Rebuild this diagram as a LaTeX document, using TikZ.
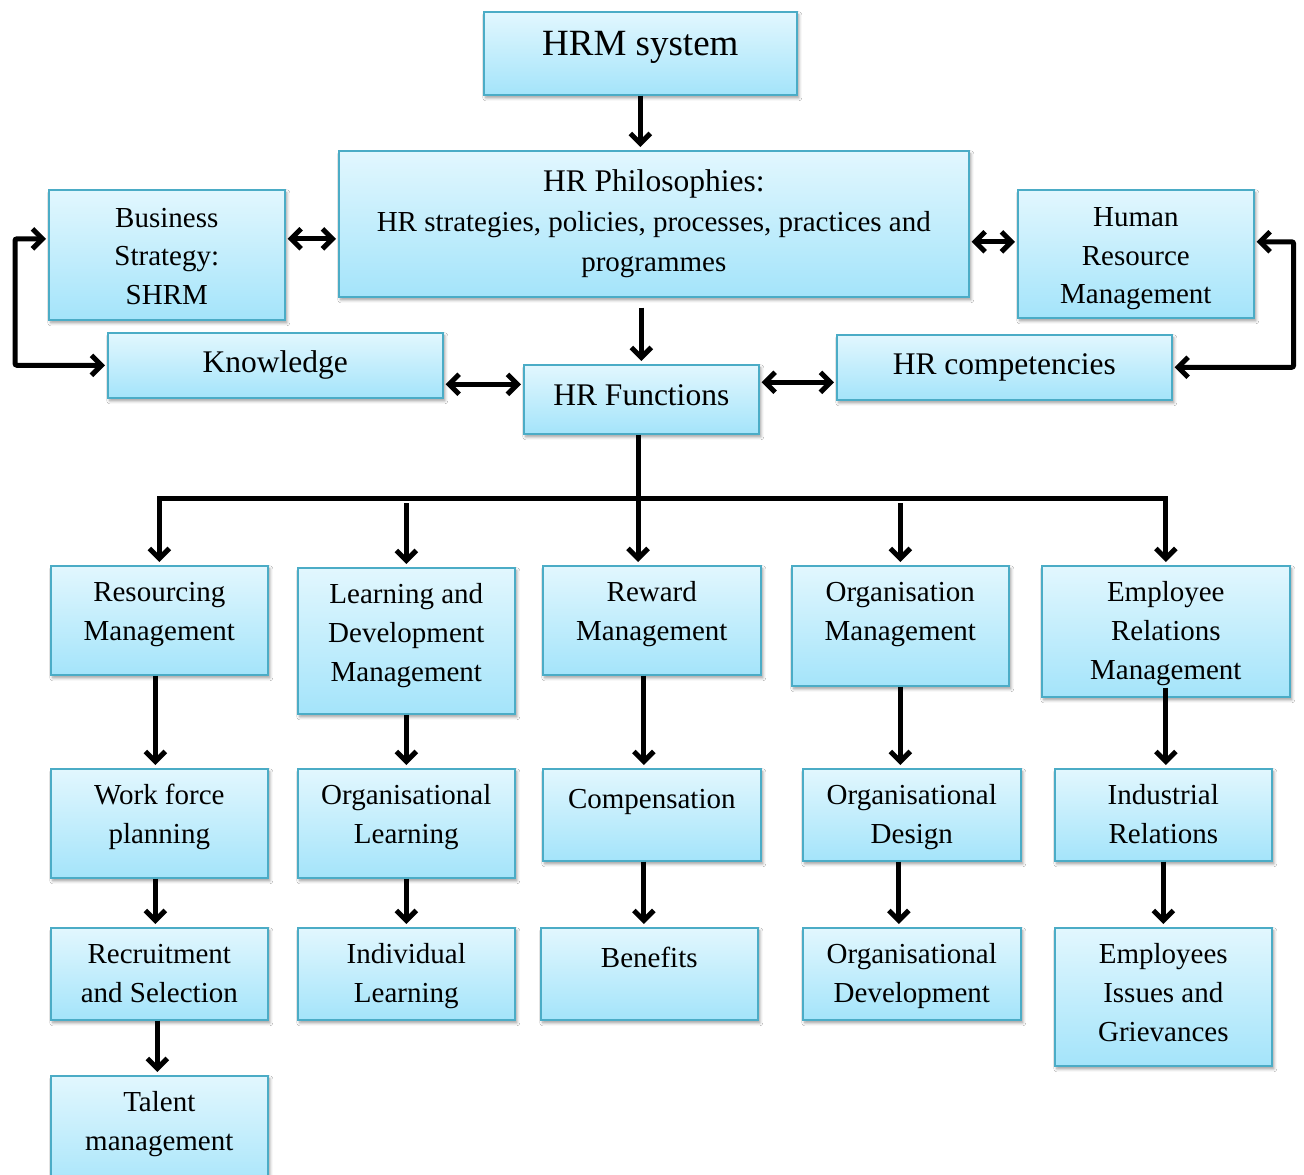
\documentclass[tikz,border=0pt]{standalone}
\usepackage{fontspec}
\setmainfont{Liberation Serif}
\usetikzlibrary{arrows.meta,shadows.blur,calc}
\definecolor{boxtop}{RGB}{226,247,254}
\definecolor{boxbot}{RGB}{164,228,250}
\definecolor{boxline}{RGB}{75,172,198}

\tikzset{
  box/.style={rectangle, draw=boxline, line width=1.6pt, top color=boxtop, bottom color=boxbot,
    inner sep=0pt, align=center,
    blur shadow={shadow xshift=2pt, shadow yshift=-3pt, shadow opacity=40, shadow blur radius=3pt, shadow blur steps=6}},
  lbl/.style={inner sep=0pt, align=center, anchor=north, font=\fontsize{29}{39}\selectfont},
  tip/.tip={Straight Barb[length=10pt,width=20pt,line width=5pt]},
  arr/.style={line width=5pt, -tip, shorten >=3pt},
  dbl/.style={line width=5pt, tip-tip, shorten >=2pt, shorten <=2pt},
  loop/.style={line width=5pt, tip-tip, rounded corners=2pt, shorten >=2pt, shorten <=2pt},
}

% box with its text centred: name, left, top, right, bottom, font, text
\newcommand\cbx[7]{%
  \node[box, anchor=north west, minimum width={#4-#2}, minimum height={#5-#3}, font=#6] (#1) at (#2,#3) {#7};}
% box with its text hung from the top edge: [drop], name, left, top, right, bottom, text
\newcommand\tbx[7][8.5]{%
  \node[box, anchor=north west, minimum width={#5-#3}, minimum height={#6-#4}] (#2) at (#3,#4) {};
  \node[lbl] (#2-t) at ([yshift=-#1pt]#2.north) {\strut #7};}

\begin{document}
\begin{tikzpicture}[x=1pt, y=-1pt]
\useasboundingbox (0,0) rectangle (1304,1175);
\fill[white] (0,0) rectangle (1304,1175);

% upper part
\cbx{hrm}{483}{11}{796}{94}{\fontsize{37}{44}\selectfont,text height=20pt,text depth=15pt}{HRM system}
\cbx{hrp}{338}{150}{968}{296}{\fontsize{29}{40}\selectfont}{{\fontsize{31.5}{40}\selectfont HR Philosophies:}\\HR strategies, policies, processes, practices and\\programmes}
\cbx{bs}{48}{189}{284}{319}{\fontsize{29}{38.5}\selectfont}{\rule{0pt}{22pt}Business\\Strategy:\\SHRM}
\cbx{hr}{1017}{189}{1253}{317}{\fontsize{29}{38.5}\selectfont}{\rule{0pt}{29pt}Human\\Resource\\Management}
\cbx{kn}{107}{332}{442}{397}{\fontsize{31.5}{38}\selectfont}{Knowledge}
\cbx{hrf}{523}{364}{758}{433}{\fontsize{31.5}{38}\selectfont,text height=20pt,text depth=7pt}{HR Functions}
\cbx{hc}{836}{334}{1171}{399}{\fontsize{31.5}{38}\selectfont}{HR competencies}

% functions
\tbx{res}{50}{565}{267}{674}{Resourcing\\Management}
\tbx{ld}{297}{567}{514}{713}{Learning and\\Development\\Management}
\tbx{rew}{542}{565}{760}{674}{Reward\\Management}
\tbx{om}{791}{565}{1008}{685}{Organisation\\Management}
\tbx{er}{1041}{565}{1289}{696}{Employee\\Relations\\Management}

\tbx{wf}{50}{768}{267}{877}{Work force\\planning}
\tbx{ol}{297}{768}{514}{877}{Organisational\\Learning}
\tbx[12.5]{comp}{542}{768}{760}{860}{Compensation}
\tbx{od}{802}{768}{1020}{860}{Organisational\\Design}
\tbx{ir}{1054}{768}{1271}{860}{Industrial\\Relations}

\tbx{rs}{50}{927}{267}{1019}{Recruitment\\and Selection}
\tbx{il}{297}{927}{514}{1019}{Individual\\Learning}
\tbx[13]{ben}{540}{927}{757}{1019}{Benefits}
\tbx{odev}{802}{927}{1020}{1019}{Organisational\\Development}
\tbx{eig}{1054}{927}{1271}{1065}{Employees\\Issues and\\Grievances}

\tbx{tal}{50}{1075}{267}{1195}{Talent\\management}

% upper connectors
\draw[arr] (hrm.south) -- (hrm.south |- hrp.north);
\draw[arr] ([yshift=-10pt]hrf.north |- hrp.south) -- (hrf.north);
\draw[dbl] ([yshift=16pt]bs.east) -- ([yshift=16pt]bs.east -| hrp.west);
\draw[dbl] ([yshift=12pt]hr.west -| hrp.east) -- ([yshift=12pt]hr.west);
\draw[dbl] ([yshift=15pt]hrf.west -| kn.east) -- ([yshift=15pt]hrf.west);
\draw[dbl] ([yshift=17pt]hrf.east) -- ([yshift=17pt]hrf.east -| hc.west);
\draw[loop] ([yshift=16pt]bs.west) -- ++(-33,0) |- (kn.west);
\draw[loop] ([yshift=12pt]hr.east) -- ++(39,0) |- (hc.east);

% trunk and distribution bar
\coordinate (bus) at (638,498);
\draw[line width=5pt] (bus |- hrf.south) -- (bus);
\draw[arr] (bus) -| (res.north);
\draw[arr] (bus) -| (er.north);
\draw[arr] (bus) -- (bus |- rew.north);
\draw[arr] ([yshift=-5pt]bus -| ld.north) -- (ld.north);
\draw[arr] ([yshift=-5pt]bus -| om.north) -- (om.north);

% column connectors
\draw[arr] ([xshift=-4pt]res.south) -- ([xshift=-4pt]wf.north);
\draw[arr] ([xshift=-4pt]wf.south) -- ([xshift=-4pt]rs.north);
\draw[arr] ([xshift=-2pt]rs.south) -- ([xshift=-2pt]tal.north);
\draw[arr] (ld.south) -- (ld.south |- ol.north);
\draw[arr] (ol.south) -- (il.north);
\draw[arr] ([xshift=-8pt]rew.south) -- ([xshift=-8pt]comp.north);
\draw[arr] ([xshift=-8pt]comp.south) -- ([xshift=-8pt]comp.south |- ben.north);
\draw[arr] (om.south) -- (om.south |- od.north);
\draw[arr] ([xshift=-13pt]od.south) -- ([xshift=-13pt]od.south |- odev.north);
\draw[arr] ([yshift=10pt]er.south) -- (er.south |- ir.north);
\draw[arr] (ir.south) -- (eig.north);
\end{tikzpicture}
\end{document}
